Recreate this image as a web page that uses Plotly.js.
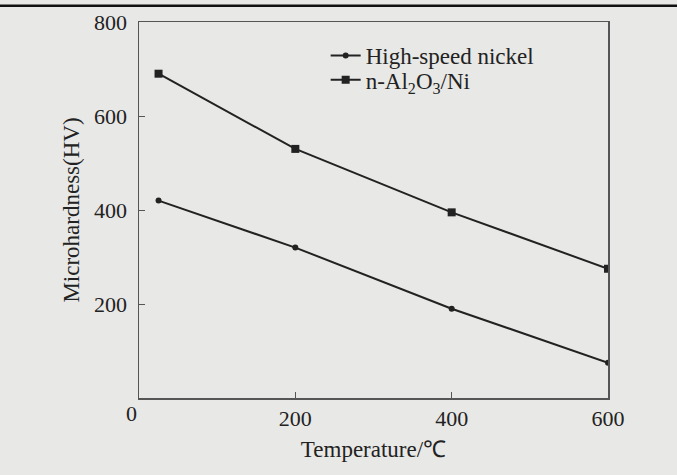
<!DOCTYPE html>
<html>
<head>
<meta charset="utf-8">
<script src="https://cdn.plot.ly/plotly-3.0.1.min.js"></script>
<style>
html,body{margin:0;padding:0;background:#e8e8e6;}
#chart{width:677px;height:475px;}
</style>
</head>
<body>
<div id="chart"></div>
<script>
// Data
const temperature = [25, 200, 400, 600];
const highSpeedNickel = [420, 320, 190, 75];
const alNi = [690, 530, 395, 275];
const seriesNames = ["High-speed nickel", "n-Al<sub>2</sub>O<sub>3</sub>/Ni"];
const xTicks = [200, 400, 600];
const yTicks = [200, 400, 600, 800];

const ink = "#222222";
const serif = "Liberation Serif, Times New Roman, serif";

const traces = [
  {
    x: temperature, y: highSpeedNickel, name: seriesNames[0],
    type: "scatter", mode: "lines+markers", legend: "legend",
    line: {color: ink, width: 2},
    marker: {symbol: "circle", size: 6, color: ink}
  },
  {
    x: temperature, y: alNi, name: seriesNames[1],
    type: "scatter", mode: "lines+markers", legend: "legend2",
    line: {color: ink, width: 2},
    marker: {symbol: "square", size: 8, color: ink}
  }
];

const legendBase = {
  xanchor: "left", yanchor: "middle",
  bgcolor: "rgba(0,0,0,0)", borderwidth: 0,
  font: {family: serif, size: 23, color: ink}
};

const layout = {
  width: 677, height: 475,
  paper_bgcolor: "#e8e8e6",
  plot_bgcolor: "#e8e8e6",
  margin: {l: 139, r: 69, t: 22, b: 77},
  font: {family: serif, color: ink, size: 22},
  showlegend: true,
  legend: Object.assign({x: 0.398, y: 0.911}, legendBase),
  legend2: Object.assign({x: 0.398, y: 0.846}, legendBase),
  xaxis: {
    range: [0, 600],
    tickvals: xTicks,
    ticks: "inside", ticklen: 6, tickcolor: "#555",
    showline: true, linecolor: "#555", linewidth: 1.5, mirror: true,
    showgrid: false, zeroline: false,
    tickfont: {family: serif, size: 22, color: ink},
    ticklabelstandoff: 0,
    title: {text: "Temperature/℃", font: {family: serif, size: 23, color: ink}, standoff: 11}
  },
  yaxis: {
    range: [0, 800],
    tickvals: yTicks,
    ticks: "inside", ticklen: 6, tickcolor: "#555",
    showline: true, linecolor: "#555", linewidth: 1.5, mirror: true,
    showgrid: false, zeroline: false,
    tickfont: {family: serif, size: 22, color: ink},
    ticklabelstandoff: 6,
    title: {text: "Microhardness(HV)", font: {family: serif, size: 23, color: ink}, standoff: 8}
  },
  annotations: [
    {text: "0", xref: "paper", yref: "paper", x: 0, y: 0,
     xanchor: "right", yanchor: "top", xshift: 0, yshift: -1,
     showarrow: false, font: {family: serif, size: 22, color: ink}}
  ],
  shapes: [
    {type: "line", xref: "paper", yref: "paper",
     x0: -0.3, x1: 1.2, y0: 1.043, y1: 1.043,
     line: {color: "#111", width: 2.5}}
  ]
};

Plotly.newPlot("chart", traces, layout, {displayModeBar: false, staticPlot: true});
</script>
</body>
</html>
